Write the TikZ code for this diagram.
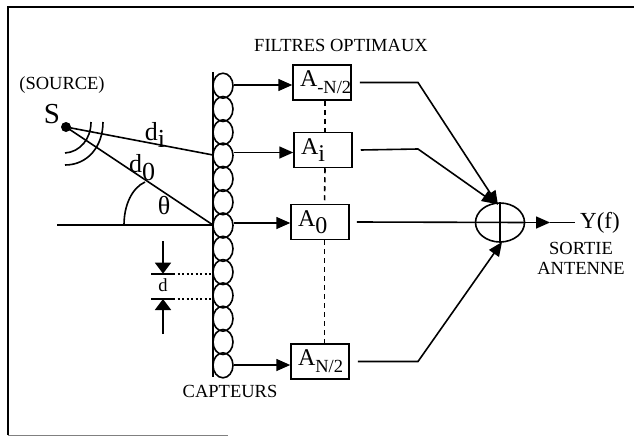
\documentclass[tikz,border=0pt]{standalone}
\usepackage{fontspec}
\setmainfont{Liberation Serif}
\usetikzlibrary{shapes.geometric, arrows.meta, positioning}
\newcommand{\indice}[1]{\raisebox{-0.3em}{#1}}
\tikzstyle{filtre} = [rectangle, minimum width=58pt, minimum height=35pt, text width=44pt, inner xsep=7pt, inner ysep=0pt, align=left, draw=black, line width=1.5pt, font=\fontsize{24pt}{24pt}\selectfont]
\tikzstyle{capteur} = [ellipse, minimum width=20pt, minimum height=25pt, inner sep=0pt, draw=black, line width=1.6pt]
\tikzstyle{label} = [inner sep=0pt, font=\fontsize{18.5pt}{20pt}\selectfont, align=center]
\tikzstyle{grand} = [inner sep=0pt, font=\fontsize{26pt}{26pt}\selectfont]
\tikzstyle{line} = [line width=1.6pt]
\tikzstyle{arrow} = [line, -{Stealth[length=14pt, width=12pt, inset=0pt]}]
\tikzstyle{arrowd} = [line, -{Stealth[length=11pt, width=16pt, inset=0pt]}]

\begin{document}
\begin{tikzpicture}[x=1pt, y=-1pt]
    \useasboundingbox (0,0) rectangle (634,436);
    \coordinate (cadrebas) at (8,435);
    \coordinate (cadrehaut) at (8,7);
    \coordinate (cadredroit) at (634,7);
    \coordinate (cadrefin) at (228,435);
    \draw [line width=2.4pt] (cadrebas) -- (cadrehaut) -- (cadredroit);
    \draw [line width=1pt, gray] (cadrebas) -- (cadrefin);

    % Capteurs
    \foreach \i in {0,...,12}
        \node (c\i) [capteur] at (223,85.7+23.3*\i) {};
    \coordinate (bartop) at (213,72);
    \coordinate (barbot) at (213,377);
    \draw [line width=2pt] (bartop) -- (barbot);

    % Filtres
    \node (an) [filtre] at (322,82.5) {A\indice{\fontsize{18.5pt}{18.5pt}\selectfont -N/2}};
    \node (ai) [filtre] at (323,150) {A\indice{i}};
    \node (a0) [filtre] at (320,222) {A\indice{0}};
    \node (ap) [filtre] at (320,361.5) {A\indice{\fontsize{18.5pt}{18.5pt}\selectfont N/2}};

    \node (somme) [ellipse, draw=black, line width=1.6pt, minimum width=49pt, minimum height=39pt, inner sep=0pt] at (500,222.5) {};
    \node (source) [circle, fill=black, minimum size=10pt, inner sep=0pt] at (66,127) {};

    % Labels
    \node (filtres) [label] at (341,45) {FILTRES OPTIMAUX};
    \node (srclabel) [label] at (62,85) {(SOURCE)};
    \node (s) [grand, font=\fontsize{29pt}{29pt}\selectfont] at (52,114) {S};
    \node (di) [grand] at (155,135) {d\indice{i}};
    \node (d0) [grand] at (142,168) {d\indice{0}};
    \node (theta) [grand] at (164,206) {θ};
    \node (capteurs) [label] at (230,391) {CAPTEURS};
    \node (y) [label, anchor=west, inner xsep=5pt, font=\fontsize{23pt}{23pt}\selectfont] at (575,222.5) {Y(f)};
    \node (sortie) [label] at (581,258) {SORTIE\\ANTENNE};
    \node (d) [label] at (163,285) {d};

    % Connections
    \draw [arrow] ([yshift=-2.5pt]an.west -| c0.east) -- ([yshift=-2.5pt]an.west);
    \draw [arrow] ([yshift=-2.5pt]ai.west -| c3.east) -- ([yshift=-2.5pt]ai.west);
    \draw [arrow] ([yshift=-1pt]a0.west -| c6.east) -- ([yshift=-1pt]a0.west);
    \draw [arrow] ([yshift=-3.5pt]ap.west -| c12.east) -- ([yshift=-3.5pt]ap.west);

    \coordinate (cs) at (213,155);
    \coordinate (c0s) at (213,225);
    \coordinate (horiz) at (57,225);
    \draw [line] (source.center) -- (cs);
    \draw [line] (source.center) -- (c0s);
    \draw [line] (horiz) -- (c0s);

    % Arcs
    \draw [line] (124,225) .. controls (124,205) and (132,188) .. (145,182);
    \draw [line] (65,153) .. controls (80,152) and (91,139) .. (91,122);
    \draw [line] (65,165) .. controls (88,165) and (103,146) .. (103,122);

    % Sorties
    \draw [line, dash pattern=on 5pt off 4pt] ([xshift=3pt]an.south) -- ([xshift=2pt]ai.north);
    \draw [line, dash pattern=on 5pt off 4pt] ([xshift=2pt]ai.south) -- ([xshift=4.5pt]a0.north);
    \draw [line, dash pattern=on 5pt off 4pt] ([xshift=4.5pt]a0.south) -- ([xshift=4.5pt]ap.north);
    \coordinate (anb) at (418,82.5);
    \coordinate (aib) at (418,149);
    \coordinate (apb) at (418,361.5);
    \coordinate (sortiey) at (550,222.5);
    \draw [arrow] ([xshift=8pt]an.east) -- (anb) -- (498,205);
    \draw [arrow] ([xshift=8pt]ai.east) -- (aib) -- (496,204);
    \draw [line] ([xshift=7pt]a0.east) -- (somme.east);
    \draw [arrow] ([xshift=8pt]ap.east) -- (apb) -- (502,242);
    \draw [arrow] (somme.east) -- (sortiey);
    \draw [line] (sortiey) -- (y.west);
    \draw [line] (somme.north) -- (somme.south);

    % Pas d
    \coordinate (t1l) at (151,273.7);
    \coordinate (t1r) at (173,273.7);
    \coordinate (t1c) at (163,273.7);
    \coordinate (t1h) at (163,241);
    \coordinate (t1b) at (213,273.7);
    \coordinate (t2l) at (151,299);
    \coordinate (t2r) at (173,299);
    \coordinate (t2c) at (163,299);
    \coordinate (t2h) at (163,334);
    \coordinate (t2b) at (213,299);
    \draw [line] (t1l) -- (t1r);
    \draw [line] (t2l) -- (t2r);
    \draw [line, dash pattern=on 2pt off 2.5pt] (t1r) -- (t1b);
    \draw [line, dash pattern=on 2pt off 2.5pt] (t2r) -- (t2b);
    \draw [arrowd] (t1h) -- (t1c);
    \draw [arrowd] (t2h) -- (t2c);
\end{tikzpicture}
\end{document}
